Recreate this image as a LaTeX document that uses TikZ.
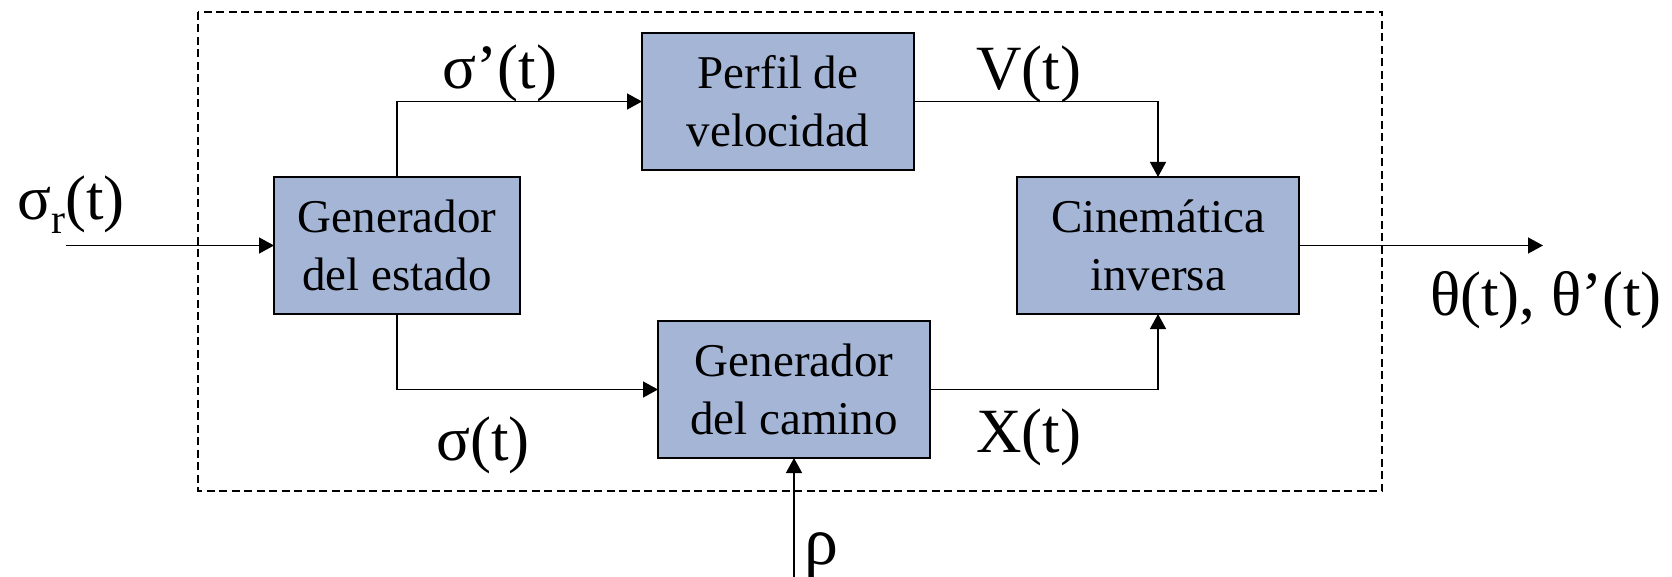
\documentclass[tikz,border=0pt]{standalone}
\usepackage{fontspec}
\setmainfont{Liberation Serif}
\usetikzlibrary{arrows.meta}
\definecolor{boxfill}{RGB}{165,181,214}
\begin{document}
\begin{tikzpicture}[x=1pt,y=-1pt,
  blk/.style={draw=black, line width=1.8pt, fill=boxfill, minimum height=137pt,
    inner sep=0pt, outer sep=0pt, align=center, font=\fontsize{47}{58}\selectfont},
  conn/.style={line width=1.4pt, -{Triangle[length=15pt,width=16pt]}},
  lbl/.style={inner sep=0pt, outer sep=0pt, font=\fontsize{63}{70}\selectfont},
  framebox/.style={draw=black, line width=2pt, dash pattern=on 8pt off 4.5pt}]
\useasboundingbox (0,0) rectangle (1672,577);
\draw[framebox] (198,12) rectangle (1382,491);

\node[blk, minimum width=246pt] (gen) at (397,245.5) {Generador\\del estado};
\node[blk, minimum width=272pt] (perf) at (778,101.5) {Perfil de\\velocidad};
\node[blk, minimum width=272pt] (cam) at (794,389.5) {Generador\\del camino};
\node[blk, minimum width=282pt] (cin) at (1158,245.5) {Cinemática\\inversa};

\coordinate (in) at (66,245.5);
\coordinate (rho) at (794,577);
\coordinate (out) at (1543,245.5);

\draw[conn] (in) -- (gen.west);
\draw[conn] (gen.north) |- (perf.west);
\draw[conn] (gen.south) |- (cam.west);
\draw[conn] (perf.east) -| (cin.north);
\draw[conn] (cam.east) -| (cin.south);
\draw[conn] (rho) -- (cam.south);
\draw[conn] (cin.east) -- (out);

\node[lbl] (lsr) at (71,205) {σ\raisebox{-0.22em}{\fontsize{42}{42}\selectfont r}(t)};
\node[lbl] (lsp) at (500,73) {σ’(t)};
\node[lbl] (ls) at (483,445.5) {σ(t)};
\node[lbl] (lv) at (1028.5,74.5) {V(t)};
\node[lbl] (lx) at (1028.5,437) {X(t)};
\node[lbl] (lth) at (1546,300.5) {θ(t), θ’(t)};
\node[lbl, anchor=base, font=\fontsize{68}{70}\selectfont] (lrho) at (821,564) {ρ};
\end{tikzpicture}
\end{document}
